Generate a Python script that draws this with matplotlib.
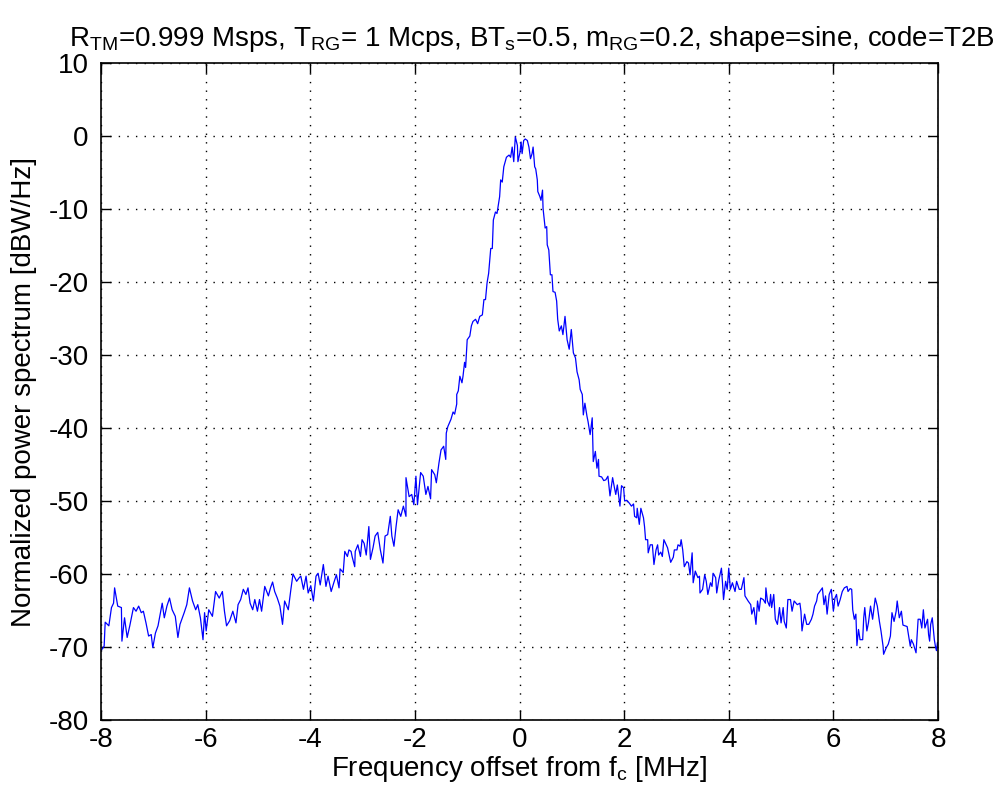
import numpy as np
import matplotlib
matplotlib.use('Agg')
import matplotlib.pyplot as plt

plt.rcParams['font.family'] = ['Liberation Sans', 'DejaVu Sans']
plt.rcParams['mathtext.fontset'] = 'custom'
plt.rcParams['mathtext.rm'] = 'Liberation Sans'
plt.rcParams['mathtext.it'] = 'Liberation Sans'
plt.rcParams['axes.unicode_minus'] = False

# ---- spectrum (MHz, dBW/Hz) ----
freq_left = [-8.0, -7.94, -7.92, -7.85, -7.8, -7.76, -7.74, -7.68, -7.61, -7.6, -7.55, -7.5,
             -7.45, -7.38, -7.33, -7.28, -7.23, -7.19, -7.14, -7.09, -7.04, -7.01, -6.96, -6.91,
             -6.83, -6.79, -6.74, -6.69, -6.64, -6.58, -6.53, -6.49, -6.41, -6.36, -6.31, -6.25,
             -6.19, -6.15, -6.1, -6.05, -6.02, -5.99, -5.94, -5.87, -5.81, -5.74, -5.68, -5.64,
             -5.6, -5.54, -5.48, -5.42, -5.38, -5.33, -5.28, -5.23, -5.19, -5.15, -5.1, -5.06,
             -5.01, -4.97, -4.93, -4.87, -4.8, -4.76, -4.72, -4.68, -4.63, -4.58, -4.53, -4.49,
             -4.42, -4.37, -4.33, -4.26, -4.21]
psd_left = [-70.5, -69.9, -66.6, -67.1, -64.6, -64.0, -61.9, -64.4, -64.6, -69.2, -66.0, -68.7,
            -67.1, -64.6, -65.1, -64.4, -65.3, -65.1, -66.7, -68.5, -68.3, -70.1, -68.1, -67.1,
            -64.0, -66.0, -64.4, -63.3, -64.9, -65.8, -68.7, -66.9, -65.3, -64.2, -61.9, -63.7,
            -64.9, -64.2, -66.0, -69.0, -65.3, -67.8, -64.9, -65.8, -62.4, -63.3, -62.4, -65.1,
            -67.1, -66.4, -65.1, -66.7, -64.2, -63.5, -62.1, -62.8, -61.9, -64.0, -64.9, -63.5,
            -65.1, -63.5, -65.1, -61.7, -63.0, -61.9, -61.1, -62.4, -63.3, -64.4, -66.9, -63.7,
            -64.9, -62.1, -60.0, -61.0, -60.5]

freq_rise = [-4.18, -4.13, -4.08, -4.04, -3.99, -3.94, -3.89, -3.85, -3.81, -3.75, -3.7, -3.66,
             -3.6, -3.55, -3.5, -3.45, -3.43, -3.37, -3.34, -3.29, -3.26, -3.22, -3.2, -3.15,
             -3.14, -3.09, -3.04, -3.01, -2.97, -2.93, -2.88, -2.85, -2.8, -2.76, -2.71, -2.66,
             -2.61, -2.57, -2.52, -2.47, -2.44, -2.4, -2.36, -2.32, -2.27, -2.22, -2.17, -2.17,
             -2.11, -2.06, -2.02, -1.98, -1.95, -1.89, -1.84, -1.79, -1.75, -1.7, -1.68, -1.62,
             -1.59, -1.54, -1.5, -1.45, -1.41, -1.4, -1.37]
psd_rise = [-60.3, -62.1, -60.3, -62.6, -61.6, -63.7, -60.3, -59.9, -61.5, -58.7, -61.7, -60.3,
            -62.4, -61.2, -60.1, -61.9, -59.3, -59.8, -56.9, -57.6, -56.7, -56.9, -57.6, -59.0,
            -56.9, -56.0, -57.6, -55.3, -55.8, -57.4, -53.5, -58.0, -56.4, -54.8, -54.3, -56.7,
            -58.5, -54.8, -54.6, -52.1, -54.8, -56.2, -53.5, -51.2, -52.1, -50.7, -52.1, -46.8,
            -49.4, -49.1, -50.5, -46.6, -50.5, -46.1, -46.6, -49.1, -48.0, -49.7, -45.7, -46.4,
            -47.5, -44.8, -43.0, -42.5, -44.3, -40.7, -39.8]

freq_peak = [-1.31, -1.27, -1.24, -1.2, -1.2, -1.17, -1.14, -1.1, -1.08, -1.05, -1.03, -1.0,
             -0.95, -0.92, -0.89, -0.84, -0.8, -0.76, -0.71, -0.68, -0.65, -0.62, -0.59, -0.55,
             -0.52, -0.5, -0.46, -0.43, -0.38, -0.36, -0.33, -0.3, -0.25, -0.2, -0.17, -0.14,
             -0.11, -0.08, -0.04, -0.03, 0.01, 0.03, 0.05, 0.08, 0.11, 0.15, 0.18, 0.21,
             0.24, 0.26, 0.29, 0.31, 0.34, 0.35, 0.39, 0.41, 0.44, 0.45, 0.49, 0.52,
             0.53, 0.56, 0.59, 0.62, 0.64, 0.68, 0.71, 0.73, 0.76, 0.8, 0.83, 0.87,
             0.91, 0.95, 0.99, 1.03, 1.07, 1.1]
psd_peak = [-38.8, -37.8, -38.1, -36.7, -35.4, -34.9, -32.9, -33.8, -32.9, -31.0, -31.7, -27.9,
            -27.4, -26.0, -25.4, -25.1, -25.7, -24.7, -24.5, -22.4, -22.4, -20.1, -18.8, -15.4,
            -15.4, -11.5, -10.4, -10.6, -8.3, -6.0, -6.3, -4.2, -2.9, -2.6, -2.9, -1.5,
            -3.5, -0.1, -1.3, -3.5, -2.2, -0.8, -2.4, -0.6, -0.4, -0.6, -1.5, -3.1,
            -2.4, -1.5, -4.2, -4.5, -6.0, -7.6, -8.3, -8.8, -7.4, -9.9, -12.6, -12.4,
            -14.9, -15.6, -19.0, -19.0, -21.3, -21.4, -22.6, -25.1, -26.7, -26.0, -27.2, -24.7,
            -27.9, -29.2, -26.5, -29.7, -30.4, -32.3]

freq_fall = [1.14, 1.16, 1.2, 1.22, 1.25, 1.29, 1.31, 1.35, 1.39, 1.41, 1.45, 1.48,
             1.51, 1.52, 1.57, 1.61, 1.65, 1.69, 1.73, 1.78, 1.81, 1.84, 1.87, 1.92,
             1.95, 1.99, 2.01, 2.05, 2.1, 2.14, 2.18, 2.2, 2.24, 2.25, 2.29, 2.32,
             2.37, 2.39, 2.41, 2.45, 2.46, 2.5, 2.54, 2.57, 2.61, 2.64, 2.66, 2.7,
             2.73, 2.76, 2.83, 2.89, 2.94, 2.96, 3.01, 3.03, 3.07]
psd_fall = [-33.4, -34.7, -35.4, -38.2, -36.6, -38.4, -39.1, -40.9, -38.6, -44.6, -43.2, -45.5,
            -44.3, -46.6, -46.7, -47.2, -47.1, -46.6, -49.3, -46.8, -48.0, -49.1, -47.8, -50.7,
            -47.9, -48.2, -50.0, -49.9, -50.3, -50.7, -50.4, -52.1, -52.3, -51.0, -53.2, -51.0,
            -52.3, -53.5, -55.3, -55.3, -57.1, -56.0, -56.0, -58.7, -56.7, -56.0, -57.4, -57.0,
            -57.6, -55.3, -56.4, -58.4, -57.7, -56.7, -56.7, -56.0, -56.2]

freq_right = [3.09, 3.12, 3.15, 3.2, 3.23, 3.26, 3.3, 3.32, 3.36, 3.41, 3.44, 3.45,
              3.5, 3.54, 3.57, 3.6, 3.65, 3.68, 3.7, 3.75, 3.77, 3.81, 3.86, 3.88,
              3.9, 3.94, 3.97, 4.0, 4.03, 4.07, 4.12, 4.15, 4.2, 4.24, 4.29, 4.31,
              4.37, 4.42, 4.44, 4.48, 4.52, 4.55, 4.58, 4.61, 4.66, 4.7, 4.71, 4.74,
              4.78, 4.8, 4.82, 4.86, 4.89, 4.93, 4.97, 5.0, 5.04, 5.06, 5.1, 5.13,
              5.18, 5.21, 5.25, 5.31, 5.36, 5.38, 5.4, 5.45, 5.49, 5.53, 5.58, 5.61,
              5.64, 5.68, 5.7, 5.74, 5.79, 5.82, 5.85, 5.88, 5.92, 5.96, 6.0, 6.03,
              6.06, 6.09, 6.13, 6.17, 6.21, 6.26, 6.28, 6.32, 6.35, 6.37, 6.4, 6.43,
              6.45, 6.48, 6.51, 6.56, 6.58, 6.6, 6.64, 6.67, 6.71, 6.75, 6.8, 6.84,
              6.88, 6.91, 6.95, 6.96, 7.01, 7.05, 7.09, 7.12, 7.16, 7.2, 7.22, 7.26,
              7.3, 7.33, 7.37, 7.41, 7.47, 7.49, 7.53, 7.58, 7.62, 7.66, 7.69, 7.72,
              7.75, 7.8, 7.82, 7.84, 7.86, 7.89, 7.93, 7.95, 7.97, 7.99, 8.0]
psd_right = [-55.3, -56.7, -59.0, -58.3, -58.5, -60.1, -57.1, -61.2, -59.6, -60.5, -60.3, -62.6,
             -62.1, -60.1, -61.0, -62.8, -61.2, -61.7, -59.9, -60.5, -62.6, -60.8, -59.2, -61.2,
             -63.5, -61.0, -62.1, -59.2, -62.1, -61.2, -62.4, -61.0, -62.1, -62.1, -60.5, -63.0,
             -63.7, -64.2, -65.5, -64.6, -66.9, -63.7, -65.1, -63.3, -63.5, -64.0, -61.9, -63.7,
             -64.4, -62.8, -64.6, -62.8, -66.2, -66.9, -64.6, -66.7, -64.6, -66.5, -67.4, -63.5,
             -63.5, -65.1, -63.7, -64.2, -64.0, -65.1, -67.8, -65.5, -66.9, -66.9, -66.2, -65.5,
             -64.4, -63.7, -62.8, -62.4, -61.9, -64.2, -63.0, -65.5, -62.8, -62.1, -65.1, -63.3,
             -62.8, -64.4, -63.5, -62.4, -61.9, -61.7, -62.4, -62.0, -62.1, -64.9, -66.2, -65.5,
             -69.8, -67.6, -69.0, -69.0, -66.0, -64.6, -67.8, -66.7, -64.4, -66.2, -63.3, -64.4,
             -66.5, -67.8, -69.9, -71.0, -70.1, -69.6, -68.5, -65.3, -66.5, -65.1, -63.7, -66.0,
             -65.1, -67.0, -67.1, -67.2, -69.9, -69.0, -69.6, -70.8, -66.2, -66.2, -67.4, -64.9,
             -67.4, -66.2, -68.3, -69.2, -66.9, -66.0, -69.0, -69.9, -70.5, -69.4, -69.9]

freq = np.array(freq_left + freq_rise + freq_peak + freq_fall + freq_right)
psd = np.array(psd_left + psd_rise + psd_peak + psd_fall + psd_right)

title = (r'R$_{\mathregular{TM}}$=0.999 Msps, T$_{\mathregular{RG}}$= 1 Mcps, '
         r'BT$_{\mathregular{s}}$=0.5, m$_{\mathregular{RG}}$=0.2, shape=sine, code=T2B')

FS = 20
fig = plt.figure(figsize=(10.03, 7.89), dpi=100)
ax = fig.add_axes([0.1007, 0.0875, 0.8345, 0.8325])
ax.plot(freq, psd, color='#0000ff', linewidth=0.9)

ax.set_xlim(-8, 8)
ax.set_ylim(-80, 10)
ax.set_xticks(np.arange(-8, 9, 2))
ax.set_yticks(np.arange(-80, 11, 10))
ax.grid(True, color='black', linestyle=(0, (1, 5.2)), linewidth=1.0)
ax.tick_params(direction='in', length=7, width=1.0, labelsize=FS,
               top=True, right=True)
ax.tick_params(axis='y', pad=9)
ax.tick_params(axis='x', pad=5)
for sp in ax.spines.values():
    sp.set_linewidth(1.2)

ax.set_xlabel(r'Frequency offset from f$_{\mathregular{c}}$ [MHz]', fontsize=FS, labelpad=1)
ax.set_ylabel('Normalized power spectrum [dBW/Hz]', fontsize=FS, labelpad=8)
ax.set_title(title, fontsize=FS, pad=12, x=0.515)

fig.savefig('out.png', dpi=100)
